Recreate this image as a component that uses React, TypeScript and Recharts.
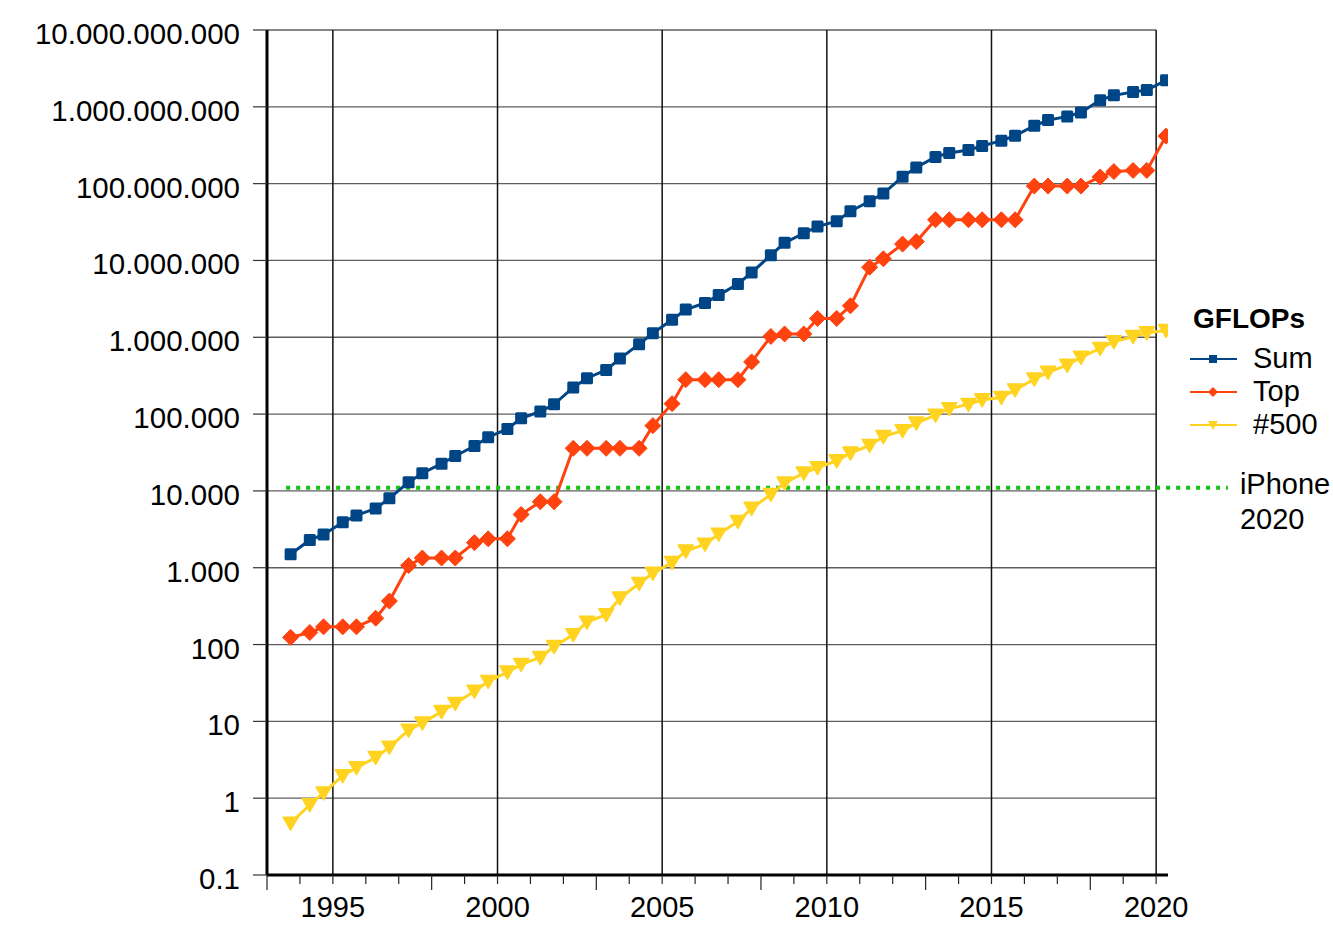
import React from 'react';
import { LineChart, Line, XAxis, YAxis, ReferenceLine, Legend } from 'recharts';

// TOP500 lists (June / November editions)
const lists = [
  '1993-11',
  '1994-06', '1994-11', '1995-06', '1995-11', '1996-06', '1996-11', '1997-06', '1997-11',
  '1998-06', '1998-11', '1999-06', '1999-11', '2000-06', '2000-11', '2001-06', '2001-11',
  '2002-06', '2002-11', '2003-06', '2003-11', '2004-06', '2004-11', '2005-06', '2005-11',
  '2006-06', '2006-11', '2007-06', '2007-11', '2008-06', '2008-11', '2009-06', '2009-11',
  '2010-06', '2010-11', '2011-06', '2011-11', '2012-06', '2012-11', '2013-06', '2013-11',
  '2014-06', '2014-11', '2015-06', '2015-11', '2016-06', '2016-11', '2017-06', '2017-11',
  '2018-06', '2018-11', '2019-06', '2019-11', '2020-06',
];

// GFLOPs
const sumGflops = [
  1500, 2300, 2700, 3900, 4800, 5900, 8000, 13000, 17000, 22600, 28500, 38400, 50000,
  64000, 88000, 108000, 134000, 222000, 293000, 375000, 528000, 813000, 1127000,
  1690000, 2300000, 2790000, 3540000, 4920000, 6970000, 11700000, 16950000, 22600000,
  27600000, 32400000, 43700000, 58900000, 74200000, 123000000, 162000000, 223000000,
  250000000, 274000000, 309000000, 363000000, 420000000, 567000000, 672000000,
  749000000, 845000000, 1220000000, 1410000000, 1560000000, 1650000000, 2210000000,
];

const topGflops = [
  124, 143.4, 170, 170, 170, 220.4, 368.2, 1068, 1338, 1338, 1338, 2121, 2379, 2379,
  4938, 7226, 7226, 35860, 35860, 35860, 35860, 35860, 70720, 136800, 280600, 280600,
  280600, 280600, 478200, 1026000, 1105000, 1105000, 1759000, 1759000, 2566000,
  8162000, 10510000, 16324750, 17590000, 33862700, 33862700, 33862700, 33862700,
  33862700, 33862700, 93014600, 93014600, 93014600, 93014600, 122300000, 143500000,
  148600000, 148600000, 415530000,
];

const lastGflops = [
  0.472, 0.822, 1.17, 1.96, 2.49, 3.39, 4.62, 7.67, 9.51, 13.39, 17.12, 24.73, 33.05,
  43.82, 55.1, 67.78, 94.3, 134.3, 195.8, 245.1, 403.4, 624, 850.6, 1166, 1645, 2026,
  2736, 4005, 5929, 9000, 12640, 17090, 20050, 24670, 31120, 39090, 50940, 60820, 76500,
  96620, 117800, 133700, 153400, 164700, 206300, 286100, 349300, 432200, 548700, 715600,
  874800, 1021000, 1142000, 1228000,
];

const iphoneGflops = 11000;
const iphoneSpan = [1993.58, 2022.18];

const yTicks = [0.1, 1, 10, 100, 1e3, 1e4, 1e5, 1e6, 1e7, 1e8, 1e9, 1e10];
const xTicks = [
  1993, 1994, 1995, 1996, 1997, 1998, 1999, 2000, 2001, 2002, 2003, 2004, 2005, 2006,
  2007, 2008, 2009, 2010, 2011, 2012, 2013, 2014, 2015, 2016, 2017, 2018, 2019, 2020,
];
const labelYears = [1995, 2000, 2005, 2010, 2015, 2020];

const FONT = '"Liberation Sans", Arial, Helvetica, sans-serif';
const BLUE = '#004586';
const ORANGE = '#ff420e';
const YELLOW = '#ffd320';
const GREEN = '#12c412';

// list date -> position on the year axis
const toYear = (l: string) => {
  const [y, m] = l.split('-').map(Number);
  return y + (m - 2.4) / 12;
};

const data = lists.map((l, i) => ({
  t: toYear(l),
  sum: sumGflops[i],
  top: topGflops[i],
  last: lastGflops[i],
}));

const fmt = (v: number) =>
  v < 1 ? String(v) : Math.round(v).toString().replace(/\B(?=(\d{3})+(?!\d))/g, '.');

const XTick = (props: any) => {
  const { x, y, payload } = props;
  const year = payload.value;
  const long = (year - 1993) % 5 === 0;
  return (
    <g>
      <line x1={x} y1={y} x2={x} y2={y + (long ? 15 : 9)} stroke="#222" strokeWidth={1.2} />
      {labelYears.includes(year) && (
        <text x={x} y={y + 42} textAnchor="middle" fontSize={29} fontFamily={FONT} fill="#000">
          {year}
        </text>
      )}
    </g>
  );
};

const YTick = (props: any) => {
  const { x, y, payload } = props;
  return (
    <text x={x} y={y + 14} textAnchor="end" fontSize={29.5} fontFamily={FONT} fill="#000">
      {fmt(payload.value)}
    </text>
  );
};

const Square = (p: any) => (
  <rect x={p.cx - 6} y={p.cy - 6} width={12} height={12} rx={1.5} fill={BLUE} />
);
const Diamond = (p: any) => (
  <path
    d={`M${p.cx},${p.cy - 8} L${p.cx + 8},${p.cy} L${p.cx},${p.cy + 8} L${p.cx - 8},${p.cy} Z`}
    fill={ORANGE}
    strokeLinejoin="round"
    stroke={ORANGE}
    strokeWidth={1}
  />
);
const Triangle = (p: any) => (
  <path
    d={`M${p.cx - 7.5},${p.cy - 6} L${p.cx + 7.5},${p.cy - 6} L${p.cx},${p.cy + 7} Z`}
    fill={YELLOW}
    stroke={YELLOW}
    strokeWidth={1.5}
    strokeLinejoin="round"
  />
);

const legendItems = [
  { key: 'sum', label: 'Sum', color: BLUE },
  { key: 'top', label: 'Top', color: ORANGE },
  { key: 'last', label: '#500', color: YELLOW },
];

const LegendBox = () => (
  <svg width={140} height={160}>
    <text x={5} y={30} fontSize={28} fontWeight="bold" fontFamily={FONT} fill="#000">
      GFLOPs
    </text>
    {legendItems.map((it, i) => {
      const y = 61 + i * 33;
      return (
        <g key={it.key}>
          <line x1={2} y1={y} x2={49} y2={y} stroke={it.color} strokeWidth={2} />
          {it.key === 'sum' && <rect x={21} y={y - 4} width={8} height={8} fill={it.color} />}
          {it.key === 'top' && (
            <path d={`M25,${y - 5} L30,${y} L25,${y + 5} L20,${y} Z`} fill={it.color} />
          )}
          {it.key === 'last' && (
            <path d={`M20,${y - 4} L30,${y - 4} L25,${y + 5} Z`} fill={it.color} />
          )}
          <text x={65} y={y + 9} fontSize={29} fontFamily={FONT} fill="#000">
            {it.label}
          </text>
        </g>
      );
    })}
  </svg>
);

const IphoneLabel = (props: any) => {
  const vb = props.viewBox || {};
  const x = vb.x + vb.width + 12;
  return (
    <text x={x} y={vb.y + 6} fontSize={29} fontFamily={FONT} fill="#000">
      <tspan x={x}>iPhone</tspan>
      <tspan x={x} dy={35}>2020</tspan>
    </text>
  );
};

export default function App() {
  return (
    <div style={{ padding: '8px 0 0 8px' }}>
      <style>{'body { margin: 0; }'}</style>
      <LineChart
        width={1325}
        height={914}
        data={data}
        margin={{ top: 22, right: 165, bottom: 0, left: 0 }}
        style={{ fontFamily: FONT, background: '#fff' }}
      >
        <XAxis
          type="number"
          dataKey="t"
          domain={[1993, 2020.36]}
          allowDataOverflow
          ticks={xTicks}
          interval={0}
          height={47}
          tickSize={0}
          tickMargin={0}
          tickLine={false}
          tick={<XTick />}
          axisLine={{ stroke: '#000', strokeWidth: 3 }}
        />
        <YAxis
          type="number"
          scale="log"
          domain={[0.1, 1e10]}
          allowDataOverflow
          ticks={yTicks}
          interval={0}
          width={259}
          tickSize={14}
          tickMargin={13}
          tickLine={{ stroke: '#333', strokeWidth: 1.2 }}
          tick={<YTick />}
          axisLine={{ stroke: '#000', strokeWidth: 3 }}
        />
        {yTicks.slice(1).map((v) => (
          <ReferenceLine
            key={`h${v}`}
            segment={[{ x: 1993, y: v }, { x: 2020, y: v }]}
            stroke="#5e5e5e"
            strokeWidth={1.3}
            ifOverflow="visible"
          />
        ))}
        {labelYears.map((yr) => (
          <ReferenceLine key={`v${yr}`} x={yr} stroke="#111" strokeWidth={1.5} />
        ))}
        <ReferenceLine
          segment={[{ x: iphoneSpan[0], y: iphoneGflops }, { x: iphoneSpan[1], y: iphoneGflops }]}
          stroke={GREEN}
          strokeWidth={4}
          strokeDasharray="4 6"
          ifOverflow="visible"
          label={<IphoneLabel />}
        />
        <Line
          dataKey="sum"
          name="Sum"
          stroke={BLUE}
          strokeWidth={3}
          dot={(p: any) => <Square {...p} key={`s${p.index}`} />}
          activeDot={false}
          isAnimationActive={false}
        />
        <Line
          dataKey="top"
          name="Top"
          stroke={ORANGE}
          strokeWidth={3}
          dot={(p: any) => <Diamond {...p} key={`d${p.index}`} />}
          activeDot={false}
          isAnimationActive={false}
        />
        <Line
          dataKey="last"
          name="#500"
          stroke={YELLOW}
          strokeWidth={3}
          dot={(p: any) => <Triangle {...p} key={`t${p.index}`} />}
          activeDot={false}
          isAnimationActive={false}
        />
        <Legend
          layout="horizontal"
          align="center"
          verticalAlign="middle"
          wrapperStyle={{ left: 1180, top: 290, width: 140, height: 160 }}
          content={() => <LegendBox />}
        />
      </LineChart>
    </div>
  );
}
